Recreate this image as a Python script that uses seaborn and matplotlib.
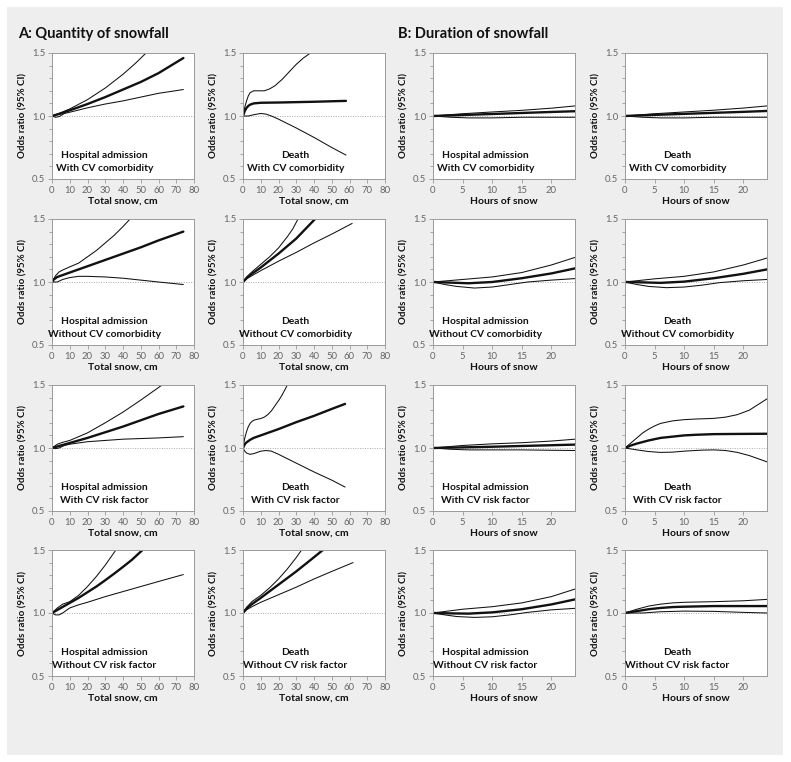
import matplotlib
matplotlib.use("Agg")
import matplotlib.pyplot as plt
import pandas as pd
import seaborn as sns
from matplotlib.patches import Rectangle
from matplotlib.ticker import MultipleLocator

sns.set_theme(style="white")
plt.rcParams["font.family"] = ["Lato", "DejaVu Sans"]

# (x, odds ratio): estimate, upper and lower 95% CI.
# --- A: total snow, cm ---
A_HOSP_CVCOM_EST = [(0, 1.0), (5, 1.02), (10, 1.045), (20, 1.095), (30, 1.15), (40, 1.21), (50, 1.27), (60, 1.34), (74, 1.46)]
A_HOSP_CVCOM_HI = [(0, 1.0), (5, 1.027), (10, 1.056), (20, 1.13), (30, 1.222), (40, 1.331), (47, 1.418), (53, 1.5)]
A_HOSP_CVCOM_LO = [(0, 1.0), (2, 0.99), (4, 0.995), (7, 1.02), (10, 1.03), (20, 1.065), (30, 1.095), (40, 1.12), (50, 1.15), (60, 1.18), (74, 1.21)]

A_DEATH_CVCOM_EST = [(0, 1.0), (1, 1.04), (2, 1.065), (3, 1.08), (4, 1.09), (6, 1.10), (10, 1.105), (20, 1.107), (40, 1.113), (58, 1.12)]
A_DEATH_CVCOM_HI = [(0, 1.0), (1, 1.07), (2, 1.12), (3, 1.16), (4, 1.185), (6, 1.20), (9, 1.20), (12, 1.20), (15, 1.215), (18, 1.24), (22, 1.29), (26, 1.35), (30, 1.41), (34, 1.46), (38, 1.5)]
A_DEATH_CVCOM_LO = [(0, 1.0), (3, 1.0), (6, 1.01), (10, 1.02), (13, 1.015), (16, 1.0), (20, 0.975), (30, 0.905), (40, 0.83), (50, 0.75), (58, 0.69)]

A_HOSP_NOCVCOM_EST = [(0, 1.0), (1, 1.02), (3, 1.04), (5, 1.05), (10, 1.075), (20, 1.125), (30, 1.175), (40, 1.225), (50, 1.275), (60, 1.33), (74, 1.40)]
A_HOSP_NOCVCOM_HI = [(0, 1.0), (2, 1.05), (4, 1.08), (6, 1.095), (10, 1.12), (15, 1.15), (20, 1.20), (25, 1.25), (30, 1.31), (35, 1.37), (40, 1.44), (44, 1.5)]
A_HOSP_NOCVCOM_LO = [(0, 1.0), (3, 1.0), (6, 1.02), (10, 1.035), (15, 1.045), (20, 1.045), (30, 1.04), (40, 1.03), (50, 1.015), (60, 1.0), (74, 0.98)]

A_DEATH_NOCVCOM_EST = [(0, 1.0), (2, 1.03), (5, 1.065), (10, 1.115), (20, 1.225), (30, 1.345), (40.6, 1.5)]
A_DEATH_NOCVCOM_HI = [(0, 1.0), (2, 1.04), (5, 1.08), (10, 1.14), (15, 1.2), (20, 1.27), (25, 1.36), (28, 1.42), (31, 1.5)]
A_DEATH_NOCVCOM_LO = [(0, 1.0), (2, 1.025), (5, 1.05), (10, 1.09), (20, 1.165), (30, 1.235), (40, 1.31), (50, 1.38), (61.5, 1.465)]

A_HOSP_CVRF_EST = [(0, 1.0), (5, 1.02), (10, 1.04), (20, 1.08), (30, 1.125), (40, 1.17), (50, 1.22), (60, 1.27), (74, 1.33)]
A_HOSP_CVRF_HI = [(0, 1.0), (3, 1.03), (6, 1.045), (10, 1.06), (15, 1.09), (20, 1.12), (30, 1.20), (40, 1.285), (50, 1.38), (62, 1.5)]
A_HOSP_CVRF_LO = [(0, 1.0), (2, 0.995), (4, 1.0), (7, 1.02), (10, 1.03), (20, 1.05), (30, 1.06), (40, 1.07), (50, 1.075), (60, 1.08), (74, 1.09)]

A_DEATH_CVRF_EST = [(0, 1.0), (1, 1.03), (2, 1.045), (4, 1.065), (6, 1.08), (8, 1.09), (10, 1.10), (20, 1.15), (30, 1.205), (40, 1.255), (50, 1.31), (57.5, 1.35)]
A_DEATH_CVRF_HI = [(0, 1.0), (1, 1.08), (2, 1.13), (3, 1.17), (4, 1.195), (5, 1.21), (6, 1.22), (8, 1.228), (10, 1.234), (12, 1.245), (14, 1.265), (16, 1.295), (18, 1.335), (20, 1.375), (22, 1.42), (25, 1.5)]
A_DEATH_CVRF_LO = [(0, 1.0), (1, 0.975), (2, 0.96), (4, 0.95), (6, 0.955), (8, 0.965), (10, 0.975), (13, 0.98), (16, 0.975), (20, 0.95), (30, 0.88), (40, 0.81), (50, 0.745), (57.5, 0.69)]

A_HOSP_NOCVRF_EST = [(0, 1.0), (5, 1.04), (10, 1.08), (15, 1.12), (20, 1.165), (25, 1.21), (30, 1.26), (35, 1.312), (40, 1.366), (45, 1.422), (51, 1.5)]
A_HOSP_NOCVRF_HI = [(0, 1.0), (3, 1.04), (6, 1.07), (10, 1.09), (15, 1.14), (20, 1.21), (25, 1.29), (30, 1.38), (36, 1.5)]
A_HOSP_NOCVRF_LO = [(0, 1.0), (2, 0.985), (4, 0.985), (6, 1.0), (10, 1.04), (15, 1.065), (20, 1.085), (30, 1.13), (40, 1.17), (50, 1.21), (60, 1.25), (74, 1.305)]

A_DEATH_NOCVRF_EST = [(0, 1.0), (2, 1.035), (5, 1.07), (10, 1.12), (20, 1.225), (30, 1.33), (38, 1.42), (45, 1.5)]
A_DEATH_NOCVRF_HI = [(0, 1.0), (2, 1.045), (5, 1.09), (10, 1.14), (15, 1.2), (20, 1.27), (25, 1.35), (30, 1.44), (33, 1.5)]
A_DEATH_NOCVRF_LO = [(0, 1.0), (2, 1.025), (5, 1.05), (10, 1.085), (20, 1.145), (30, 1.205), (40, 1.27), (50, 1.33), (62, 1.40)]

# --- B: hours of snow ---
B_HOSP_CVCOM_EST = [(0, 1.0), (5, 1.008), (10, 1.016), (15, 1.024), (20, 1.032), (24, 1.038)]
B_HOSP_CVCOM_HI = [(0, 1.0), (5, 1.018), (10, 1.032), (15, 1.045), (20, 1.062), (24, 1.08)]
B_HOSP_CVCOM_LO = [(0, 1.0), (3, 0.99), (6, 0.985), (10, 0.985), (15, 0.99), (20, 0.99), (24, 0.99)]

B_DEATH_CVCOM_EST = [(0, 1.0), (5, 1.009), (10, 1.017), (15, 1.025), (20, 1.033), (24, 1.04)]
B_DEATH_CVCOM_HI = [(0, 1.0), (5, 1.018), (10, 1.032), (15, 1.046), (20, 1.063), (24, 1.08)]
B_DEATH_CVCOM_LO = [(0, 1.0), (3, 0.99), (6, 0.985), (10, 0.985), (15, 0.99), (20, 0.99), (24, 0.99)]

B_HOSP_NOCVCOM_EST = [(0, 1.0), (3, 0.995), (6, 0.99), (10, 1.0), (15, 1.03), (20, 1.068), (24, 1.108)]
B_HOSP_NOCVCOM_HI = [(0, 1.0), (5, 1.02), (10, 1.04), (15, 1.075), (20, 1.135), (24, 1.195)]
B_HOSP_NOCVCOM_LO = [(0, 1.0), (2, 0.98), (4, 0.965), (7, 0.952), (10, 0.96), (13, 0.98), (16, 1.0), (20, 1.015), (24, 1.027)]

B_DEATH_NOCVCOM_EST = [(0, 1.0), (3, 0.997), (6, 0.993), (10, 1.003), (15, 1.03), (20, 1.065), (24, 1.10)]
B_DEATH_NOCVCOM_HI = [(0, 1.0), (5, 1.025), (10, 1.045), (15, 1.08), (20, 1.135), (24, 1.19)]
B_DEATH_NOCVCOM_LO = [(0, 1.0), (2, 0.98), (4, 0.965), (7, 0.955), (10, 0.96), (13, 0.975), (16, 0.995), (20, 1.01), (24, 1.02)]

B_HOSP_CVRF_EST = [(0, 1.0), (5, 1.005), (10, 1.01), (15, 1.016), (20, 1.022), (24, 1.027)]
B_HOSP_CVRF_HI = [(0, 1.0), (5, 1.02), (10, 1.033), (15, 1.042), (20, 1.055), (24, 1.07)]
B_HOSP_CVRF_LO = [(0, 1.0), (3, 0.99), (6, 0.985), (10, 0.985), (15, 0.985), (20, 0.982), (24, 0.98)]

B_DEATH_CVRF_EST = [(0, 1.0), (1, 1.02), (2, 1.035), (4, 1.06), (6, 1.08), (8, 1.09), (10, 1.10), (12, 1.105), (15, 1.11), (20, 1.112), (24, 1.113)]
B_DEATH_CVRF_HI = [(0, 1.0), (1, 1.04), (2, 1.08), (3, 1.12), (4, 1.15), (5, 1.175), (6, 1.195), (8, 1.215), (10, 1.225), (12, 1.23), (15, 1.235), (17, 1.245), (19, 1.265), (21, 1.30), (24, 1.39)]
B_DEATH_CVRF_LO = [(0, 1.0), (2, 0.985), (4, 0.972), (6, 0.965), (8, 0.967), (10, 0.975), (13, 0.983), (15, 0.985), (17, 0.98), (19, 0.965), (21, 0.94), (24, 0.89)]

B_HOSP_NOCVRF_EST = [(0, 1.0), (3, 0.997), (6, 0.995), (10, 1.005), (15, 1.03), (20, 1.068), (24, 1.108)]
B_HOSP_NOCVRF_HI = [(0, 1.0), (5, 1.03), (10, 1.05), (15, 1.08), (20, 1.13), (24, 1.19)]
B_HOSP_NOCVRF_LO = [(0, 1.0), (2, 0.985), (4, 0.972), (7, 0.965), (10, 0.97), (13, 0.985), (16, 1.005), (20, 1.025), (24, 1.037)]

B_DEATH_NOCVRF_EST = [(0, 1.0), (2, 1.015), (4, 1.03), (6, 1.04), (8, 1.047), (10, 1.05), (15, 1.055), (20, 1.055), (24, 1.055)]
B_DEATH_NOCVRF_HI = [(0, 1.0), (2, 1.03), (4, 1.055), (6, 1.07), (8, 1.08), (10, 1.085), (15, 1.09), (20, 1.097), (24, 1.108)]
B_DEATH_NOCVRF_LO = [(0, 1.0), (3, 1.0), (6, 1.01), (10, 1.015), (15, 1.013), (20, 1.005), (24, 1.0)]

OUTCOMES = ["Hospital admission", "Death"]
GROUPS = ["With CV comorbidity", "Without CV comorbidity", "With CV risk factor", "Without CV risk factor"]

# rows = groups; per row: (A hosp, A death, B hosp, B death), each (est, hi, lo)
GRID = [
    [(A_HOSP_CVCOM_EST, A_HOSP_CVCOM_HI, A_HOSP_CVCOM_LO), (A_DEATH_CVCOM_EST, A_DEATH_CVCOM_HI, A_DEATH_CVCOM_LO),
     (B_HOSP_CVCOM_EST, B_HOSP_CVCOM_HI, B_HOSP_CVCOM_LO), (B_DEATH_CVCOM_EST, B_DEATH_CVCOM_HI, B_DEATH_CVCOM_LO)],
    [(A_HOSP_NOCVCOM_EST, A_HOSP_NOCVCOM_HI, A_HOSP_NOCVCOM_LO), (A_DEATH_NOCVCOM_EST, A_DEATH_NOCVCOM_HI, A_DEATH_NOCVCOM_LO),
     (B_HOSP_NOCVCOM_EST, B_HOSP_NOCVCOM_HI, B_HOSP_NOCVCOM_LO), (B_DEATH_NOCVCOM_EST, B_DEATH_NOCVCOM_HI, B_DEATH_NOCVCOM_LO)],
    [(A_HOSP_CVRF_EST, A_HOSP_CVRF_HI, A_HOSP_CVRF_LO), (A_DEATH_CVRF_EST, A_DEATH_CVRF_HI, A_DEATH_CVRF_LO),
     (B_HOSP_CVRF_EST, B_HOSP_CVRF_HI, B_HOSP_CVRF_LO), (B_DEATH_CVRF_EST, B_DEATH_CVRF_HI, B_DEATH_CVRF_LO)],
    [(A_HOSP_NOCVRF_EST, A_HOSP_NOCVRF_HI, A_HOSP_NOCVRF_LO), (A_DEATH_NOCVRF_EST, A_DEATH_NOCVRF_HI, A_DEATH_NOCVRF_LO),
     (B_HOSP_NOCVRF_EST, B_HOSP_NOCVRF_HI, B_HOSP_NOCVRF_LO), (B_DEATH_NOCVRF_EST, B_DEATH_NOCVRF_HI, B_DEATH_NOCVRF_LO)],
]

W, H = 791, 762
COL_LEFT = [52, 243, 433, 625]
ROW_TOP = [53, 219, 385, 550]
AX_W, AX_H = 142, 126
GREY_BG = "#eeeeee"
SPINE = "#9a9a9a"
INK = "#111111"

fig = plt.figure(figsize=(W / 100, H / 100), dpi=100)
fig.patch.set_facecolor("white")
fig.add_artist(Rectangle((7 / W, 1 - 755 / H), 776 / W, 748 / H, transform=fig.transFigure,
                         facecolor=GREY_BG, edgecolor="none", zorder=-10))

fig.text(18 / W, 1 - 38 / H, "A: Quantity of snowfall", fontsize=10.5, fontweight="bold", color=INK)
fig.text(398 / W, 1 - 38 / H, "B: Duration of snowfall", fontsize=10.5, fontweight="bold", color=INK)


def to_frame(points):
    return pd.DataFrame(points, columns=["x", "y"])


for r, group in enumerate(GROUPS):
    for c in range(4):
        left, top = COL_LEFT[c], ROW_TOP[r]
        ax = fig.add_axes([left / W, 1 - (top + AX_H) / H, AX_W / W, AX_H / H])
        ax.set_zorder(1)
        ax.set_facecolor("white")
        est, hi, lo = GRID[r][c]
        for pts, lw in ((hi, 0.75), (lo, 0.75), (est, 1.7)):
            sns.lineplot(data=to_frame(pts), x="x", y="y", ax=ax, color=INK,
                         linewidth=lw, estimator=None, sort=False)
        ax.axhline(1.0, color="#aaaaaa", linestyle=(0, (1, 1.5)), linewidth=0.7, zorder=0)

        ax.set_ylim(0.5, 1.5)
        ax.yaxis.set_major_locator(MultipleLocator(0.5))
        ax.yaxis.set_minor_locator(MultipleLocator(0.1))
        ax.yaxis.set_major_formatter(plt.FormatStrFormatter("%.1f"))
        if c < 2:
            ax.set_xlim(0, 80)
            ax.xaxis.set_major_locator(MultipleLocator(10))
            ax.set_xlabel("Total snow, cm", fontsize=7.5, fontweight="bold", color=INK, labelpad=1.5)
        else:
            ax.set_xlim(0, 24)
            ax.xaxis.set_major_locator(MultipleLocator(5))
            ax.set_xlabel("Hours of snow", fontsize=7.5, fontweight="bold", color=INK, labelpad=1.5)
        ax.set_ylabel("Odds ratio (95% CI)", fontsize=7, fontweight="bold", color=INK, labelpad=3)

        ax.tick_params(which="both", direction="out", colors=SPINE, labelcolor="#666666",
                       labelsize=6.8, pad=2, left=True, bottom=True)
        ax.tick_params(which="major", length=3, width=0.6)
        ax.tick_params(which="minor", length=2, width=0.6)
        for s in ax.spines.values():
            s.set_color(SPINE)
            s.set_linewidth(0.7)

        ax.text(0.37, 0.19, OUTCOMES[c % 2], transform=ax.transAxes, ha="center", va="center",
                fontsize=7.4, fontweight="bold", color=INK)
        ax.text(0.37, 0.085, group, transform=ax.transAxes, ha="center", va="center",
                fontsize=7.4, fontweight="bold", color=INK)

fig.savefig("out.png", dpi=100, facecolor=fig.get_facecolor())
